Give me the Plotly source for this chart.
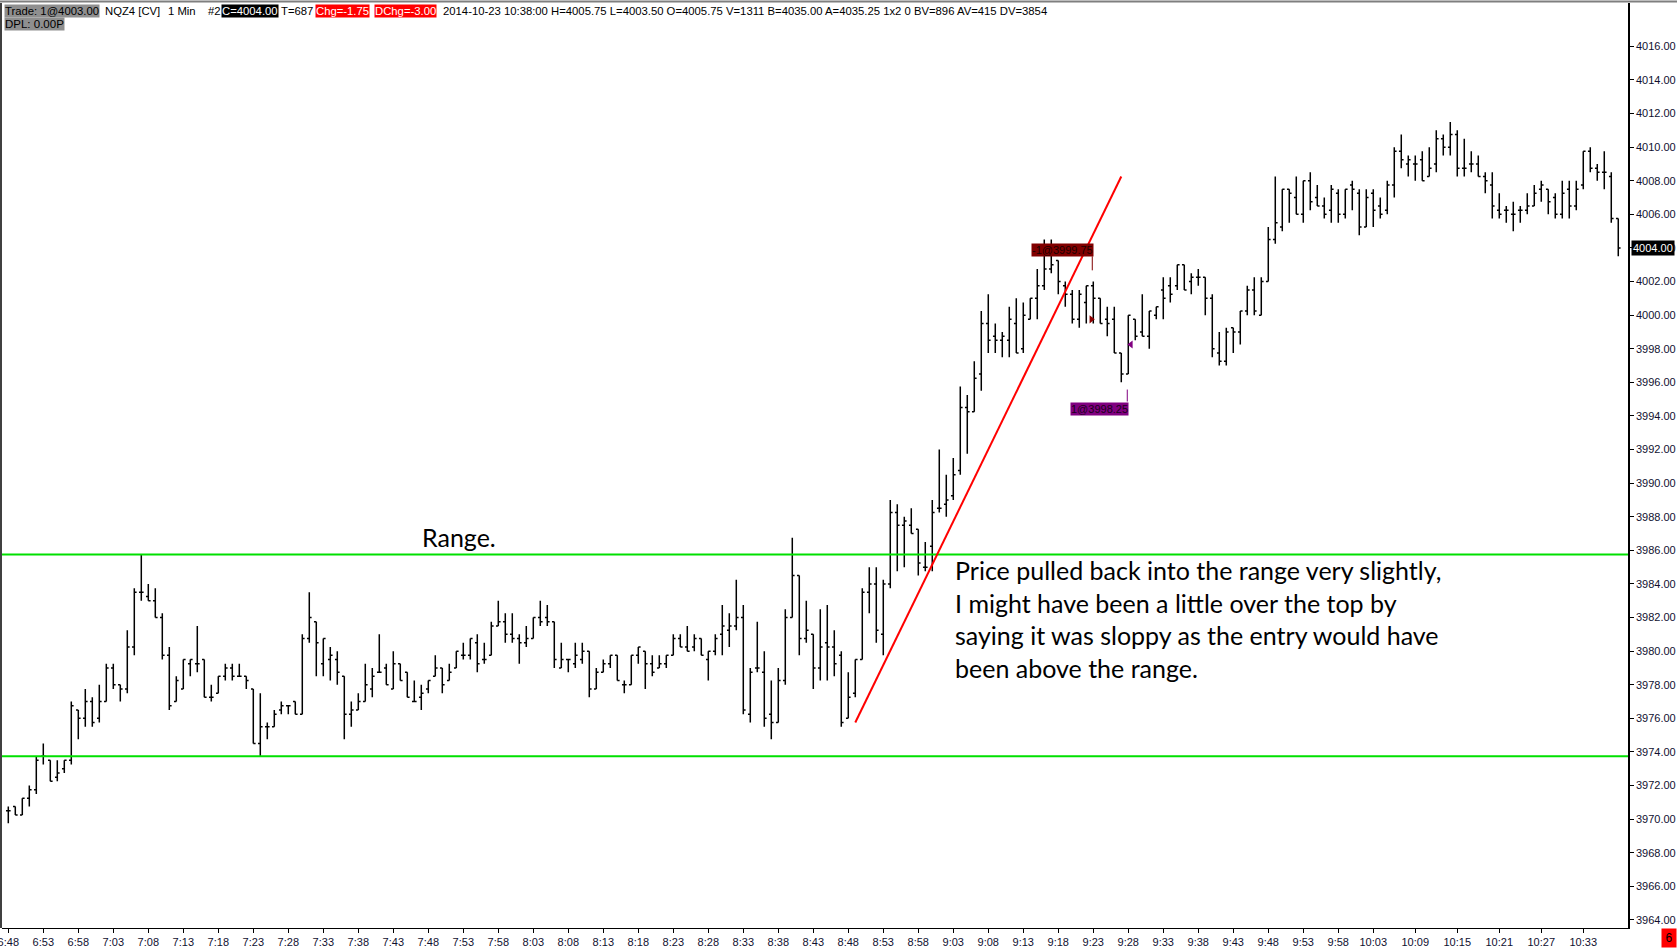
import pandas as pd
import plotly.graph_objects as go

# ---------------- data ----------------
start_time = "2014-10-23 06:48"
n_bars = 231
times = pd.date_range(start_time, periods=n_bars, freq="min")

opens = [
3970.5,3970.75,3970.25,3971.25,3971.75,3973.75,3973.5,3972.5,3973.0,3973.5,
3976.5,3976.0,3977.0,3976.0,3977.0,3979.0,3978.0,3977.75,3980.25,3983.5,
3983.25,3983.0,3982.0,3979.75,3977.0,3977.75,3979.25,3979.25,3979.5,3977.25,
3977.5,3978.5,3979.0,3978.5,3978.5,3977.75,3974.5,3975.5,3975.5,3976.5,
3976.75,3977.0,3976.25,3980.75,3981.75,3979.25,3979.5,3979.5,3978.5,3976.25,
3976.5,3977.0,3977.75,3978.75,3979.0,3977.75,3979.25,3978.75,3977.0,3977.25,
3977.75,3978.5,3979.0,3978.25,3979.0,3979.75,3979.75,3980.5,3979.5,3979.75,
3981.5,3981.75,3981.0,3980.75,3980.5,3980.75,3982.0,3982.0,3981.75,3979.0,
3979.5,3979.25,3979.5,3980.0,3977.75,3978.75,3979.25,3979.75,3978.0,3978.0,
3979.75,3980.0,3979.25,3979.0,3979.25,3979.75,3980.75,3980.25,3980.25,3980.75,
3979.5,3980.0,3981.0,3981.25,3981.5,3982.0,3976.25,3979.0,3978.75,3976.25,
3975.75,3978.25,3982.0,3984.5,3980.75,3981.0,3979.0,3980.5,3980.25,3979.75,
3976.0,3977.5,3979.5,3983.5,3984.0,3981.0,3984.0,3988.25,3987.5,3987.5,
3987.25,3985.0,3986.25,3988.5,3988.75,3989.25,3990.75,3994.5,3994.25,3996.5,
3999.5,3998.75,3998.5,3998.5,3999.5,3998.0,3999.75,4001.0,4001.75,4002.75,
4003.25,4001.75,4001.25,3999.75,4000.75,4001.75,4001.0,3999.75,3999.75,3997.75,
3996.5,3999.75,3999.0,3998.75,4000.0,4001.5,4001.75,4001.75,4003.0,4002.0,
4002.25,4002.25,4001.0,3997.75,3997.25,3999.25,3999.0,4000.25,4001.5,4000.0,
4002.0,4004.5,4005.25,4007.5,4007.0,4006.0,4008.0,4007.0,4006.5,4006.25,
4007.25,4006.0,4007.75,4007.25,4005.25,4007.25,4006.5,4006.25,4007.75,4009.75,
4009.0,4009.0,4009.25,4008.25,4009.0,4010.5,4010.0,4010.75,4008.75,4009.0,
4009.0,4008.25,4007.75,4006.25,4006.25,4006.0,4006.25,4006.25,4006.5,4007.5,
4007.5,4007.0,4006.0,4007.5,4006.5,4007.75,4009.75,4008.75,4008.5,4008.25,
4005.75]

highs = [
3970.75,3970.75,3971.25,3972.0,3973.75,3974.5,3973.5,3973.5,3973.5,3977.0,
3976.5,3977.75,3977.25,3978.0,3979.25,3979.25,3978.0,3981.25,3983.75,3985.75,
3984.0,3983.75,3982.25,3980.25,3978.5,3979.5,3979.5,3981.5,3979.5,3978.0,
3978.5,3979.25,3979.25,3979.25,3978.5,3977.75,3977.5,3975.75,3976.5,3977.0,
3976.75,3977.0,3981.0,3983.5,3981.75,3980.75,3980.25,3980.0,3978.5,3977.0,
3977.5,3979.25,3979.0,3981.0,3979.25,3980.0,3979.25,3978.75,3978.25,3978.0,
3978.25,3979.75,3979.0,3979.25,3980.0,3980.5,3980.75,3981.0,3980.5,3981.75,
3983.0,3982.25,3982.25,3981.0,3981.5,3982.0,3983.0,3982.75,3981.75,3980.5,
3979.5,3980.5,3980.5,3980.0,3979.0,3979.5,3979.75,3979.75,3978.25,3979.75,
3980.25,3980.0,3979.75,3979.75,3979.75,3981.0,3981.0,3981.5,3981.0,3980.75,
3980.0,3981.0,3982.75,3982.25,3984.25,3982.75,3979.0,3981.75,3980.0,3978.25,
3979.0,3982.5,3986.75,3984.5,3983.0,3981.0,3982.5,3982.75,3981.25,3980.0,
3978.75,3979.5,3983.75,3985.0,3985.0,3984.25,3989.0,3988.75,3988.0,3988.5,
3987.25,3986.5,3989.0,3992.0,3990.5,3991.5,3995.75,3995.25,3997.25,4000.25,
4001.25,3999.5,3999.0,4000.5,4001.0,4000.75,4001.0,4002.75,4004.5,4004.5,
4003.25,4002.0,4001.5,4001.5,4001.75,4002.0,4001.0,4000.5,4000.5,3997.75,
4000.0,3999.75,4001.25,4000.25,4000.5,4002.25,4002.25,4003.0,4003.0,4002.5,
4002.75,4002.25,4001.25,3999.0,3999.25,3999.25,4000.25,4001.75,4002.25,4002.25,
4005.25,4008.25,4007.5,4007.5,4008.25,4008.0,4008.5,4007.75,4007.0,4007.75,
4007.5,4007.5,4008.0,4007.5,4007.5,4007.5,4007.0,4008.0,4010.0,4010.75,
4009.5,4009.5,4009.75,4010.0,4011.0,4010.75,4011.5,4011.0,4010.5,4009.75,
4009.5,4008.5,4008.5,4007.25,4006.5,4006.75,4006.5,4007.25,4007.75,4008.0,
4007.5,4007.25,4008.0,4008.0,4008.0,4009.75,4010.0,4009.0,4009.75,4008.5,
4005.75]

lows = [
3969.75,3970.25,3970.25,3970.75,3971.5,3973.25,3972.25,3972.25,3972.75,3973.25,
3974.75,3975.5,3975.5,3975.75,3977.0,3977.75,3977.0,3977.5,3979.75,3983.0,
3983.0,3982.0,3979.5,3976.5,3977.0,3977.75,3978.5,3978.75,3977.25,3977.0,
3977.5,3978.25,3978.25,3978.5,3977.75,3974.5,3973.75,3974.75,3975.5,3976.25,
3976.25,3976.25,3976.25,3980.5,3978.5,3978.5,3978.25,3978.0,3974.75,3975.5,
3976.5,3977.0,3977.25,3978.75,3978.0,3977.75,3978.25,3977.25,3977.0,3976.5,
3977.5,3978.5,3977.5,3978.25,3979.0,3979.5,3979.5,3978.75,3979.25,3979.75,
3981.5,3980.5,3980.5,3979.25,3980.25,3980.75,3981.5,3981.5,3979.0,3979.0,
3978.75,3979.0,3979.25,3977.25,3977.75,3978.75,3979.0,3978.25,3977.5,3978.0,
3979.25,3977.75,3978.5,3979.0,3979.0,3979.75,3980.25,3980.0,3980.0,3979.75,
3978.25,3979.75,3979.75,3980.25,3981.25,3976.25,3975.75,3978.75,3975.5,3974.75,
3975.75,3978.0,3982.0,3979.75,3980.5,3977.75,3978.25,3978.25,3978.5,3975.5,
3976.0,3977.25,3979.5,3982.25,3980.5,3979.75,3983.75,3984.75,3985.0,3987.0,
3984.5,3984.75,3984.75,3988.25,3988.0,3989.0,3990.5,3991.75,3994.25,3995.5,
3997.75,3997.75,3997.5,3997.5,3997.75,3997.75,3999.75,3999.75,4001.5,4002.5,
4001.25,4000.5,3999.5,3999.25,3999.5,3999.5,3999.5,3998.75,3997.75,3996.0,
3996.5,3998.5,3998.75,3998.0,3999.75,3999.75,4000.75,4001.5,4001.5,4001.25,
4001.75,4000.0,3997.5,3997.0,3997.0,3997.75,3998.25,4000.0,4000.0,4000.0,
4002.0,4004.25,4005.0,4005.5,4006.0,4005.5,4006.25,4006.5,4005.75,4005.5,
4005.5,4005.75,4006.25,4004.75,4005.25,4005.25,4005.75,4006.0,4007.0,4008.75,
4008.25,4008.0,4008.0,4008.25,4008.5,4009.5,4009.5,4008.25,4008.25,4008.5,
4008.25,4007.25,4005.75,4005.75,4005.5,4005.0,4005.5,4006.0,4006.5,4006.75,
4006.0,4005.75,4005.75,4005.75,4006.25,4007.5,4008.5,4008.0,4007.5,4005.5,
4003.5]

closes = [
3970.5,3970.25,3971.25,3971.75,3973.5,3973.75,3972.25,3972.75,3973.5,3976.75,
3976.0,3977.0,3975.75,3977.0,3979.0,3978.0,3977.75,3980.25,3983.5,3983.5,
3983.0,3982.0,3979.75,3976.75,3978.25,3979.5,3979.5,3979.25,3977.25,3977.25,
3978.5,3979.0,3978.5,3978.5,3978.25,3974.5,3975.5,3975.5,3976.25,3976.75,
3976.75,3976.25,3980.75,3982.0,3980.5,3980.75,3979.75,3978.75,3976.25,3976.5,
3977.0,3978.0,3978.5,3978.75,3978.0,3979.25,3978.25,3977.25,3977.0,3977.5,
3978.25,3979.0,3978.0,3978.75,3980.0,3979.75,3980.75,3979.25,3979.5,3981.5,
3981.75,3981.0,3980.75,3980.5,3980.75,3982.0,3981.75,3981.75,3979.5,3979.5,
3979.5,3979.75,3980.0,3977.75,3978.75,3979.25,3979.75,3978.25,3978.0,3979.75,
3980.25,3979.25,3978.75,3979.25,3979.75,3980.75,3980.25,3980.0,3980.75,3979.75,
3980.0,3980.75,3981.5,3981.5,3982.0,3976.5,3978.75,3979.0,3976.0,3975.75,
3978.25,3982.0,3984.5,3980.75,3981.25,3979.0,3980.25,3980.25,3979.25,3975.75,
3977.25,3979.5,3983.5,3984.0,3981.25,3984.0,3988.25,3987.5,3987.75,3987.0,
3985.25,3985.0,3988.25,3988.5,3989.0,3990.5,3994.5,3994.25,3996.25,3999.5,
3998.5,3998.5,3998.75,3999.75,3997.75,4000.0,4001.0,4001.75,4002.75,4003.0,
4002.0,4001.25,3999.75,4001.25,4001.75,4001.0,3999.5,3999.5,3997.75,3996.5,
4000.0,3998.75,3998.75,4000.25,4000.5,4001.0,4001.25,4003.0,4001.5,4002.25,
4002.25,4001.0,3998.0,3997.25,3999.0,3999.0,4000.25,4001.5,4000.25,4002.0,
4004.5,4005.5,4007.5,4007.25,4006.0,4008.0,4006.75,4006.5,4006.0,4007.5,
4006.0,4007.5,4007.5,4005.25,4007.0,4006.25,4006.0,4007.75,4009.75,4009.25,
4009.25,4009.0,4008.0,4008.75,4010.5,4010.0,4010.75,4008.75,4008.75,4009.0,
4008.25,4008.0,4006.5,4006.0,4006.25,4006.0,4006.25,4006.5,4007.25,4007.75,
4006.75,4006.0,4007.25,4006.5,4007.5,4009.75,4008.75,4008.5,4008.5,4005.75,
4004.0]

x_tick_labels = ["6:48","6:53","6:58","7:03","7:08","7:13","7:18","7:23","7:28","7:33",
                 "7:38","7:43","7:48","7:53","7:58","8:03","8:08","8:13","8:18","8:23",
                 "8:28","8:33","8:38","8:43","8:48","8:53","8:58","9:03","9:08","9:13",
                 "9:18","9:23","9:28","9:33","9:38","9:43","9:48","9:53","9:58","10:03",
                 "10:09","10:15","10:21","10:27","10:33"]
y_tick_values = [3964 + 2 * k for k in range(27)]
y_tick_labels = ["%.2f" % v for v in y_tick_values]

range_high = 3985.75
range_low = 3973.75
trend_times = ["2014-10-23 08:49", "2014-10-23 09:27"]
trend_prices = [3975.75, 4008.25]

sell_time, sell_price, sell_label = "2014-10-23 09:23", 3999.75, "-1@3999.75"
buy_time, buy_price, buy_label = "2014-10-23 09:28", 3998.25, "1@3998.25"
last_price = 4004.00

range_text = "Range."
comment_lines = ["Price pulled back into the range very slightly,",
                 "I might have been a little over the top by",
                 "saying it was sloppy as the entry would have",
                 "been above the range."]

header_items = [
    ("Trade: 1@4003.00", 4, "#8f8f8f", "#000000"),
    ("NQZ4 [CV]", 104, None, "#000000"),
    ("1 Min", 167, None, "#000000"),
    ("#2", 207, None, "#000000"),
    ("C=4004.00", 221, "#000000", "#ffffff"),
    ("T=687", 280, None, "#000000"),
    ("Chg=-1.75", 315, "#ff0000", "#ffffff"),
    ("DChg=-3.00", 374, "#ff0000", "#ffffff"),
    ("2014-10-23 10:38:00 H=4005.75 L=4003.50 O=4005.75 V=1311 B=4035.00 A=4035.25 1x2 0 BV=896 AV=415 DV=3854", 442, None, "#000000"),
]

# ---------------- layout geometry ----------------
W, H = 1677, 948
ML, MR, MT, MB = 2, 49, 3, 20
PW, PH = W - ML - MR, H - MT - MB

def xp(px):
    return (px - ML) / PW

def yp(py):
    return 1 - (py - MT) / PH

t0 = times[0]
x_range = [t0 - pd.Timedelta(minutes=0.9), t0 + pd.Timedelta(minutes=231.39)]
y_range = [3963.52, 4018.58]

tick_vals = [pd.Timestamp("2014-10-23 " + s) for s in x_tick_labels]
tick_text = list(x_tick_labels)

fig = go.Figure()
fig.add_trace(go.Ohlc(
    x=times, open=opens, high=highs, low=lows, close=closes,
    increasing=dict(line=dict(color="#000000", width=1.5)),
    decreasing=dict(line=dict(color="#000000", width=1.5)),
    tickwidth=0.33, showlegend=False, hoverinfo="skip",
))

# trade markers
fig.add_trace(go.Scatter(
    x=[pd.Timestamp(sell_time) - pd.Timedelta(seconds=17)], y=[sell_price],
    mode="markers", marker=dict(symbol="triangle-right", size=7, color="#8b0000"),
    showlegend=False, hoverinfo="skip"))
fig.add_trace(go.Scatter(
    x=[pd.Timestamp(buy_time) + pd.Timedelta(seconds=22)], y=[buy_price],
    mode="markers", marker=dict(symbol="triangle-left", size=7, color="#800080"),
    showlegend=False, hoverinfo="skip"))

shapes = [
    dict(type="line", xref="paper", yref="y", x0=0, x1=1, y0=range_high, y1=range_high,
         line=dict(color="#00e000", width=2)),
    dict(type="line", xref="paper", yref="y", x0=0, x1=1, y0=range_low, y1=range_low,
         line=dict(color="#00e000", width=2)),
    dict(type="line", xref="x", yref="y", x0=trend_times[0], x1=trend_times[1],
         y0=trend_prices[0], y1=trend_prices[1], line=dict(color="#ff0000", width=2)),
    # frame: left black, top gray
    dict(type="line", xref="paper", yref="paper", x0=xp(1), x1=xp(1), y0=0, y1=1,
         line=dict(color="#000000", width=1.5)),
    dict(type="line", xref="paper", yref="paper", x0=-0.01, x1=1.05, y0=yp(1.5), y1=yp(1.5),
         line=dict(color="#7f7f7f", width=2)),
    # trade label stubs
    dict(type="line", xref="x", yref="y", xsizemode="pixel", ysizemode="pixel",
         xanchor=sell_time, yanchor=sell_price, x0=-1, x1=-1, y0=49, y1=63,
         line=dict(color="#800000", width=1)),
    dict(type="line", xref="x", yref="y", xsizemode="pixel", ysizemode="pixel",
         xanchor=buy_time, yanchor=buy_price, x0=-1, x1=-1, y0=-45, y1=-57,
         line=dict(color="#800080", width=1)),
]

ann = []
for text, px0, bg, fc in header_items:
    d = dict(xref="paper", yref="paper", x=xp(px0), y=yp(10.5), xanchor="left", yanchor="middle",
             text=text, showarrow=False, font=dict(family="Liberation Sans", size=11.3, color=fc),
             borderpad=0)
    if bg:
        d["bgcolor"] = bg
    ann.append(d)
ann.append(dict(xref="paper", yref="paper", x=xp(4), y=yp(24), xanchor="left", yanchor="middle",
                text="DPL: 0.00P", showarrow=False, bgcolor="#8f8f8f", borderpad=0,
                font=dict(family="Liberation Sans", size=11.5, color="#000000")))

ann.append(dict(xref="paper", yref="paper", x=xp(459), y=yp(537), xanchor="center", yanchor="middle",
                text=range_text, showarrow=False, font=dict(family="Lato", size=25, color="#000000")))
ann.append(dict(xref="paper", yref="paper", x=xp(953), y=yp(553), xanchor="left", yanchor="top",
                align="left", text="<br>".join(comment_lines), showarrow=False,
                font=dict(family="Lato", size=25, color="#000000")))

ann.append(dict(xref="x", yref="y", x=sell_time, y=sell_price, xanchor="right", yanchor="bottom",
                xshift=1, yshift=62, text=sell_label, showarrow=False, bgcolor="#800000", borderpad=0,
                font=dict(family="Liberation Sans", size=11, color="#1a0000")))
ann.append(dict(xref="x", yref="y", x=buy_time, y=buy_price, xanchor="right", yanchor="top",
                xshift=0.5, yshift=-57, text=buy_label, showarrow=False, bgcolor="#800080", borderpad=0,
                font=dict(family="Liberation Sans", size=11, color="#1a001a")))

ann.append(dict(xref="paper", yref="y", x=xp(1631), y=last_price, xanchor="left", yanchor="middle",
                text="%.2f" % last_price, showarrow=False, bgcolor="#000000", borderpad=1,
                font=dict(family="Liberation Sans", size=11, color="#ffffff")))
ann.append(dict(xref="paper", yref="paper", x=xp(1677), y=yp(948), xanchor="right", yanchor="bottom",
                text="6", showarrow=False, bgcolor="#ff0000", borderpad=2, width=10,
                font=dict(family="Liberation Sans", size=12, color="#000000")))

fig.update_layout(
    width=W, height=H, margin=dict(l=ML, r=MR, t=MT, b=MB, autoexpand=False),
    paper_bgcolor="#ffffff", plot_bgcolor="#ffffff",
    shapes=shapes, annotations=ann, showlegend=False,
    xaxis=dict(type="date", range=x_range, rangeslider=dict(visible=False),
               tickmode="array", tickvals=tick_vals, ticktext=tick_text,
               showgrid=False, zeroline=False, showline=True, linecolor="#000000", linewidth=1,
               ticks="outside", ticklen=4, tickcolor="#000000", ticklabeloverflow="allow",
               automargin=False,
               tickfont=dict(family="Liberation Sans", size=11, color="#101030"),
               fixedrange=True),
    yaxis=dict(side="right", range=y_range, tickmode="array", tickvals=y_tick_values,
               ticktext=y_tick_labels, showgrid=False, zeroline=False, showline=True,
               linecolor="#000000", linewidth=1.5, ticks="outside", ticklen=4, tickcolor="#000000",
               automargin=False,
               tickfont=dict(family="Liberation Sans", size=11, color="#101030"),
               fixedrange=True),
)

fig.write_html("out.html", config={"displayModeBar": False},
               post_script="document.body.style.margin='0';document.body.style.overflow='hidden';")
